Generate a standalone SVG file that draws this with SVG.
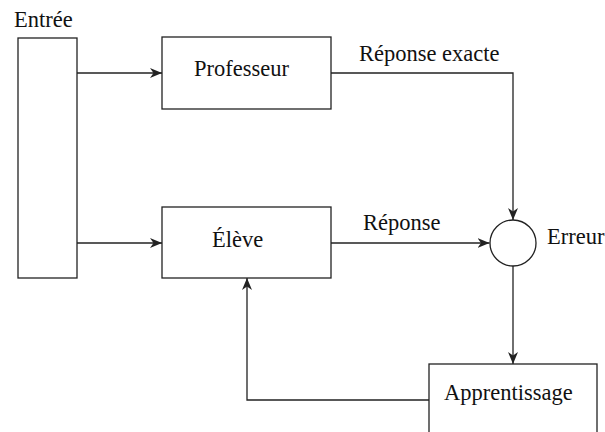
<svg xmlns="http://www.w3.org/2000/svg" width="605" height="432" viewBox="0 0 605 432" font-family="'Liberation Serif', 'Times New Roman', 'DejaVu Serif', serif">
<style>
.box{fill:#fff;stroke:#222;stroke-width:1.3}
.ln{fill:none;stroke:#222;stroke-width:1.3}
.t{font-family:'Liberation Serif', 'Times New Roman', 'DejaVu Serif', serif;font-size:22.5px;fill:#111}
</style>
<defs>
<marker id="ah" viewBox="0 0 12 10" refX="12" refY="5" markerWidth="12" markerHeight="10" markerUnits="userSpaceOnUse" orient="auto">
<path d="M0,0 L12,5 L0,10 L3.5,5 z" fill="#222"/>
</marker>
</defs>
<rect width="605" height="432" fill="#fff"/>
<g id="connectors">
<path class="ln" d="M77,73 H162" marker-end="url(#ah)"/>
<path class="ln" d="M77,243 H162" marker-end="url(#ah)"/>
<path class="ln" d="M331,73 H513 V220" marker-end="url(#ah)"/>
<path class="ln" d="M331,243 H489.5" marker-end="url(#ah)"/>
<path class="ln" d="M513,266 V364" marker-end="url(#ah)"/>
<path class="ln" d="M429,400 H247 V278" marker-end="url(#ah)"/>
<text class="t" x="359" y="61">Réponse exacte</text>
<text class="t" x="363" y="230">Réponse</text>
</g>
<g id="entree">
<rect class="box" x="18" y="38" width="59" height="240"/>
<text class="t" x="14" y="27">Entrée</text>
</g>
<g id="professeur">
<rect class="box" x="162" y="37" width="169" height="72"/>
<text class="t" x="194" y="75.5">Professeur</text>
</g>
<g id="eleve">
<rect class="box" x="162" y="207" width="169" height="71"/>
<text class="t" x="212" y="247">Élève</text>
</g>
<g id="erreur">
<circle class="box" cx="513" cy="243" r="23"/>
<text class="t" x="547" y="244">Erreur</text>
</g>
<g id="apprentissage">
<rect class="box" x="429" y="364" width="168" height="80"/>
<text class="t" x="444" y="399.5">Apprentissage</text>
</g>
</svg>
